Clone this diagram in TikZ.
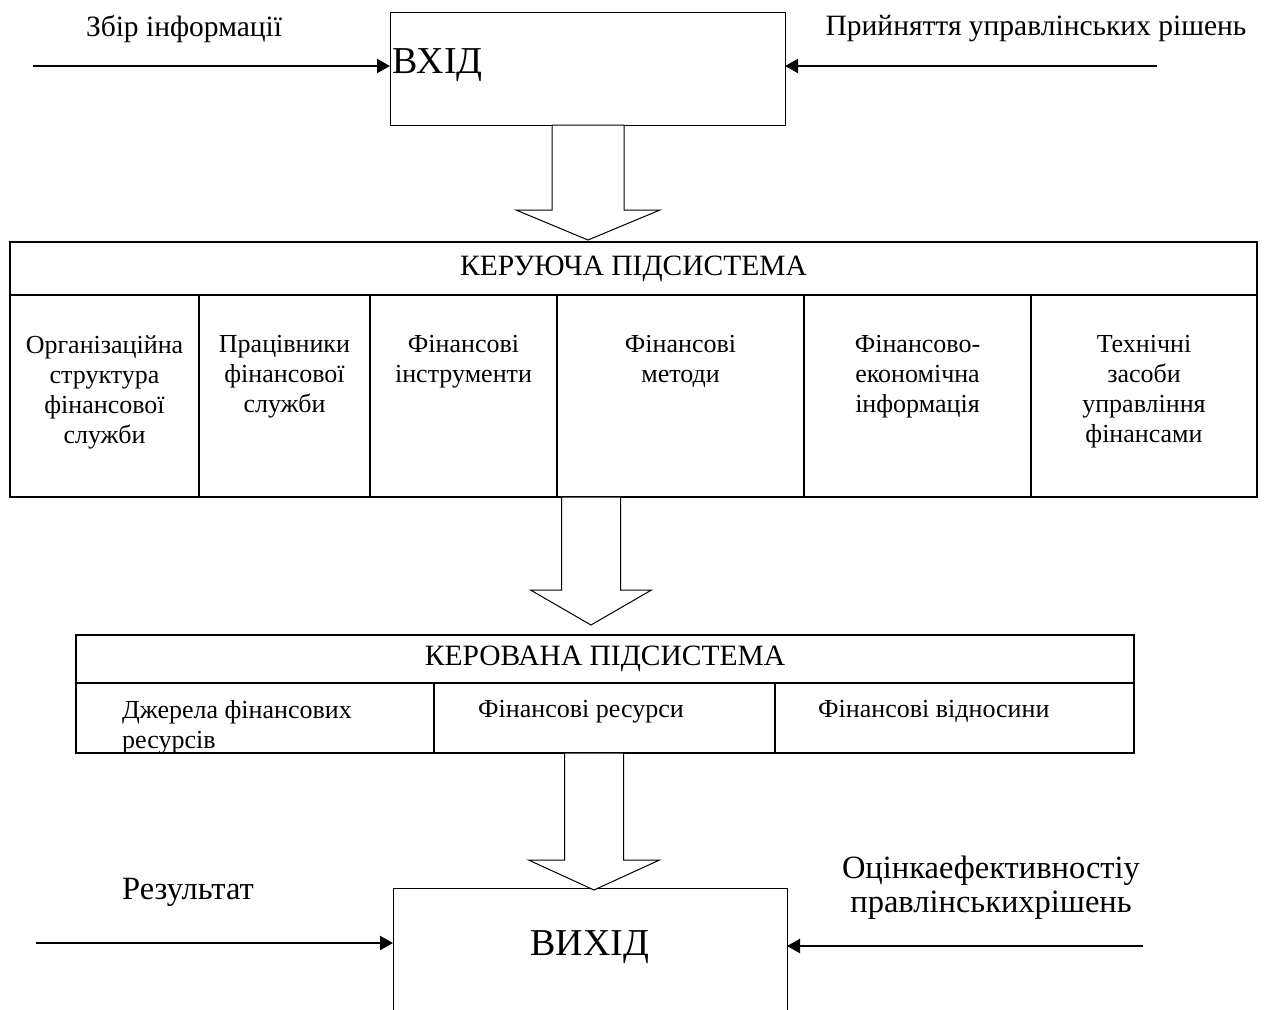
\documentclass[tikz,border=0pt]{standalone}
\usepackage{fontspec}
\setmainfont{Liberation Serif}
\usetikzlibrary{positioning,calc,arrows.meta}
\tikzstyle{box} = [rectangle, draw, line width=1pt, inner sep=0pt, outer sep=0pt, anchor=north west]
\tikzstyle{head} = [rectangle, draw, line width=1.8pt, inner sep=0pt, outer sep=0pt, anchor=north west,
    font=\fontsize{29.5}{34}\selectfont]
\tikzstyle{cell} = [rectangle, draw, line width=1.8pt, inner sep=0pt, outer sep=0pt, anchor=north west]
\tikzstyle{celltext} = [inner sep=0pt, align=center, font=\fontsize{26}{30}\selectfont]
\tikzstyle{lbl} = [inner sep=0pt, align=center, font=\fontsize{29.5}{34}\selectfont]
\tikzstyle{biglbl} = [inner sep=0pt, align=center, font=\fontsize{32.5}{34}\selectfont]
\tikzstyle{bigtext} = [inner sep=0pt, font=\fontsize{38}{40}\selectfont]
\tikzstyle{line} = [draw, line width=2.2pt, -{Triangle[length=13pt,width=14pt]}]
\tikzstyle{fat} = [draw, line width=1pt, fill=white]
% hollow block arrow: #1 start (only y used), #2 tip, #3 half shaft, #4 half head, #5 head length
\newcommand{\fatarrow}[5]{%
  \path[fat] let \p1=(#1), \p2=(#2) in
    (\x2-#3,\y1) -- (\x2-#3,\y2+#5) -- (\x2-#4,\y2+#5) -- (\x2,\y2)
    -- (\x2+#4,\y2+#5) -- (\x2+#3,\y2+#5) -- (\x2+#3,\y1) -- cycle;}

\begin{document}
\begin{tikzpicture}[x=1pt, y=-1pt]
			\useasboundingbox (0,0) rectangle (1286,1010);
			\clip (0,0) rectangle (1286,1010);
			% Input and output boxes
			\node [box, minimum width=395pt, minimum height=113pt] (vhid) at (390,12) {};
			\node [bigtext, anchor=west] (vhidtext) at ([xshift=2pt, yshift=3pt]vhid.west) {ВХІД};
			\node [box, minimum width=394pt, minimum height=150pt] (vyhid) at (393,888) {};
			\node [bigtext] (vyhidtext) at ([yshift=-59pt]vyhid.north) {ВИХІД};
			% Managing subsystem
			\node [head, minimum width=1247pt, minimum height=53pt] (kh) at (10,242) {КЕРУЮЧА ПІДСИСТЕМА};
			\node [cell, minimum width=189pt, minimum height=202pt] (c1) at (kh.south west) {};
			\node [cell, minimum width=171pt, minimum height=202pt] (c2) at (c1.north east) {};
			\node [cell, minimum width=187pt, minimum height=202pt] (c3) at (c2.north east) {};
			\node [cell, minimum width=247pt, minimum height=202pt] (c4) at (c3.north east) {};
			\node [cell, minimum width=227pt, minimum height=202pt] (c5) at (c4.north east) {};
			\node [cell, minimum width=226pt, minimum height=202pt] (c6) at (c5.north east) {};
			\node [celltext, below=40pt of c1.north] (t1) {Організаційна\\структура\\фінансової\\служби};
			\node [celltext, below=40pt of c2.north] (t2) {Працівники\\фінансової\\служби};
			\node [celltext, below=40pt of c3.north] (t3) {Фінансові\\інструменти};
			\node [celltext, below=40pt of c4.north] (t4) {Фінансові\\методи};
			\node [celltext, below=40pt of c5.north] (t5) {Фінансово-\\економічна\\інформація};
			\node [celltext, below=40pt of c6.north] (t6) {Технічні\\засоби\\управління\\фінансами};
			% Managed subsystem
			\node [head, minimum width=1058pt, minimum height=48pt] (kd) at (76,635) {КЕРОВАНА ПІДСИСТЕМА};
			\node [cell, minimum width=358pt, minimum height=70pt] (d1) at (kd.south west) {};
			\node [cell, minimum width=341pt, minimum height=70pt] (d2) at (d1.north east) {};
			\node [cell, minimum width=359pt, minimum height=70pt] (d3) at (d2.north east) {};
			\node [celltext, align=left, below right=17pt and 46pt of d1.north west] (s1) {Джерела фінансових\\ресурсів};
			\node [celltext, align=left, below right=17pt and 44pt of d2.north west] (s2) {Фінансові ресурси};
			\node [celltext, align=left, below right=17pt and 43pt of d3.north west] (s3) {Фінансові відносини};
			% Block arrows
			\coordinate (f1tip) at (588,240);
			\coordinate (f2tip) at (591,625);
			\coordinate (f3tip) at (594,890);
			\fatarrow{vhid.south}{f1tip}{36pt}{72pt}{30pt}
			\fatarrow{c4.south}{f2tip}{29.5pt}{60.5pt}{35pt}
			\fatarrow{d2.south}{f3tip}{29.5pt}{65.5pt}{30pt}
			% Side arrows
			\coordinate (in1) at (33,66);
			\coordinate (in2) at (1157,66);
			\coordinate (out1) at (36,943);
			\coordinate (out2) at (1143,946);
			\path [line] (in1) -- (in1 -| vhid.west);
			\path [line] (in2) -- (in2 -| vhid.east);
			\path [line] (out1) -- (out1 -| vyhid.west);
			\path [line] (out2) -- (out2 -| vyhid.east);
			\node [lbl] (l1) at (184,29) {Збір інформації};
			\node [lbl] (l2) at (1036,29) {Прийняття управлінських рішень};
			\node [biglbl] (l3) at (188,892) {Результат};
			\node [biglbl] (l4) at (991,888) {Оцінкаефективностіу\\правлінськихрішень};
\end{tikzpicture}
\end{document}
